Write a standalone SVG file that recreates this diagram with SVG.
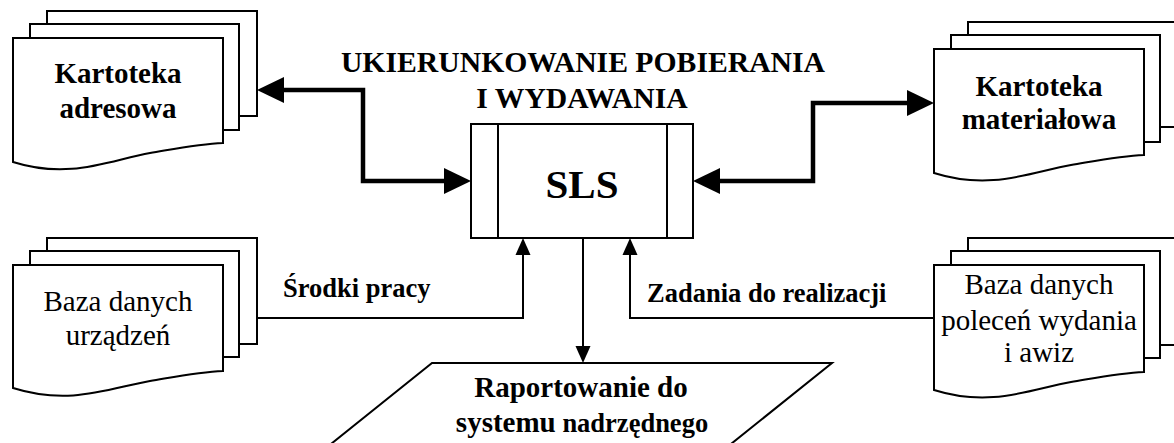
<svg xmlns="http://www.w3.org/2000/svg" width="1174" height="443" viewBox="0 0 1174 443">
<style>
.sh{fill:#fff;stroke:#000;stroke-width:2;stroke-linejoin:miter}
.t{font-family:"Liberation Serif","Times New Roman",serif;fill:#000;text-anchor:middle}
.b{font-weight:bold}
.thick{fill:none;stroke:#000;stroke-width:4.5;stroke-linejoin:miter}
.thin{fill:none;stroke:#000;stroke-width:2}
</style>
<defs>
<marker id="big" markerUnits="userSpaceOnUse" markerWidth="28" markerHeight="26" viewBox="0 0 27 26" refX="0" refY="13" orient="auto-start-reverse" overflow="visible">
<path d="M0,0 L27,13 L0,26 z" fill="#000"/>
</marker>
<marker id="sm" markerUnits="userSpaceOnUse" markerWidth="17" markerHeight="16" viewBox="0 0 17 16" refX="0" refY="8" orient="auto" overflow="visible">
<path d="M0,0.5 L17,8 L0,15.5 z" fill="#000"/>
</marker>
</defs>
<rect width="1174" height="443" fill="#fff"/>

<g id="connectors">
<path class="thick" d="M284,90 L363,90 L363,181 L444,181" marker-start="url(#big)" marker-end="url(#big)"/>
<path class="thick" d="M720,181 L813,181 L813,103 L907,103" marker-start="url(#big)" marker-end="url(#big)"/>
<path class="thin" d="M257,318 L523,318 L523,255" marker-end="url(#sm)"/>
<path class="thin" d="M934,318 L630,318 L630,255" marker-end="url(#sm)"/>
<path class="thin" d="M583,238 L583,346" marker-end="url(#sm)"/>
<text class="t b" x="283" y="297" font-size="26.5" style="text-anchor:start">Środki pracy</text>
<text class="t b" x="647" y="302" font-size="26.5" style="text-anchor:start">Zadania do realizacji</text>
</g>

<g id="title">
<text class="t b" x="583" y="72" font-size="29.7">UKIERUNKOWANIE POBIERANIA</text>
<text class="t b" x="582" y="108" font-size="29.7">I WYDAWANIA</text>
</g>

<g id="sls">
<rect class="sh" x="471" y="124" width="222" height="114"/>
<line class="thin" x1="498" y1="124" x2="498" y2="238"/>
<line class="thin" x1="667" y1="124" x2="667" y2="238"/>
<text class="t b" x="582" y="198" font-size="41">SLS</text>
</g>

<g id="kartoteka-adresowa">
<rect class="sh" x="47" y="11" width="210" height="105"/>
<rect class="sh" x="30" y="24" width="209" height="106"/>
<path class="sh" d="M13,38 L223,38 L223,143 C200,144 180,148 150,153 C110,160 70,180 13,162 Z"/>
<text class="t b" x="118" y="83" font-size="29">Kartoteka</text>
<text class="t b" x="118" y="118" font-size="29">adresowa</text>
</g>

<g id="kartoteka-materialowa">
<rect class="sh" x="968" y="22" width="210" height="105"/>
<rect class="sh" x="951" y="35" width="209" height="107"/>
<path class="sh" d="M934,49 L1144,49 L1144,155 C1121,156 1101,160 1071,165 C1031,172 991,191 934,173 Z"/>
<text class="t b" x="1039" y="96" font-size="29">Kartoteka</text>
<text class="t b" x="1039" y="129" font-size="29">materiałowa</text>
</g>

<g id="baza-urzadzen">
<rect class="sh" x="47" y="238" width="210" height="106"/>
<rect class="sh" x="30" y="251" width="209" height="106"/>
<path class="sh" d="M13,265 L223,265 L223,371 C200,372 180,376 150,381 C110,388 70,406 13,388 Z"/>
<text class="t" x="118" y="311" font-size="29">Baza danych</text>
<text class="t" x="118" y="345" font-size="29">urządzeń</text>
</g>

<g id="baza-polecen">
<rect class="sh" x="968" y="238" width="210" height="107"/>
<rect class="sh" x="951" y="251" width="209" height="107"/>
<path class="sh" d="M934,265 L1144,265 L1144,372 C1121,373 1101,377 1071,382 C1031,389 991,408 934,390 Z"/>
<text class="t" x="1039" y="294" font-size="29">Baza danych</text>
<text class="t" x="1039" y="330" font-size="29">poleceń wydania</text>
<text class="t" x="1039" y="362" font-size="29">i awiz</text>
</g>

<g id="raportowanie">
<path class="sh" d="M432,363 L832,363 L711,460 L311,460 Z"/>
<text class="t b" x="581" y="397" font-size="29">Raportowanie do</text>
<text class="t b" x="582" y="432"><tspan font-size="29">systemu</tspan><tspan font-size="26.5"> nadrzędnego</tspan></text>
</g>
</svg>
